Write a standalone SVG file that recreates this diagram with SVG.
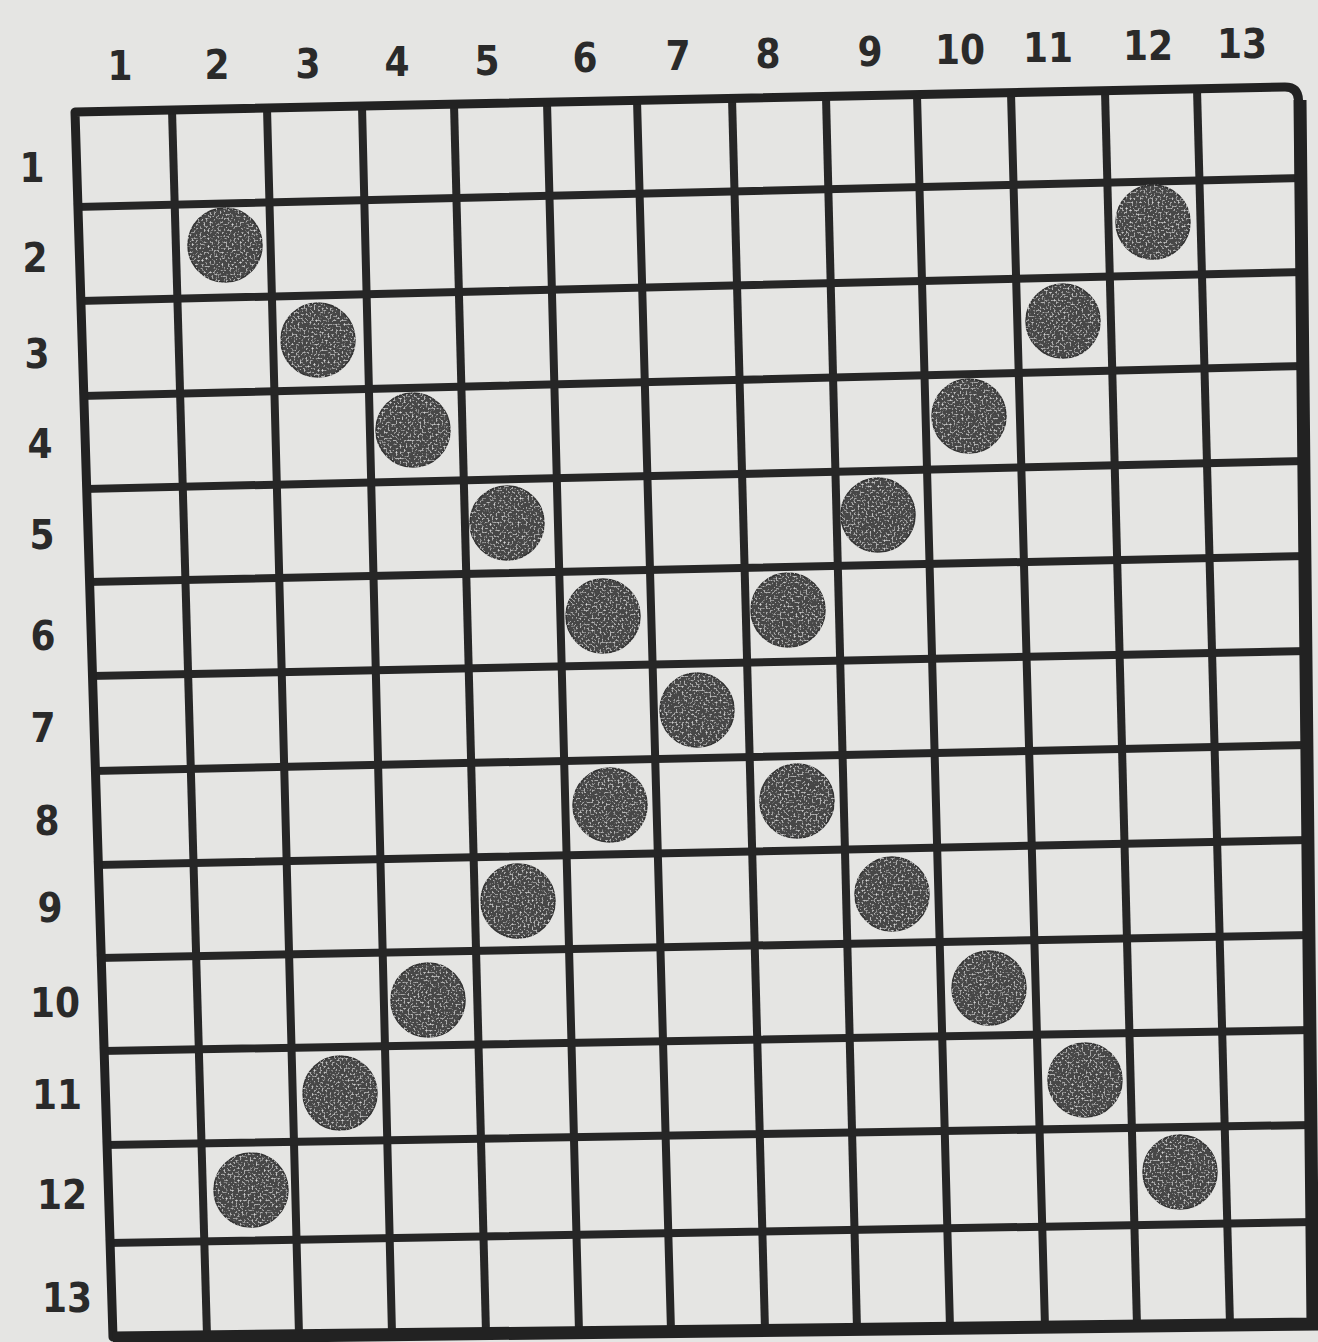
<svg xmlns="http://www.w3.org/2000/svg" width="1318" height="1342" viewBox="0 0 1318 1342">
<style>
.g{stroke:#262626;stroke-width:8;stroke-linecap:square;fill:none}
.b{stroke:#222;stroke-width:9;fill:none;stroke-linejoin:round}
.d{fill:#474747;stroke:#333;stroke-width:1.5}
.t{font-family:"DejaVu Sans Condensed","DejaVu Sans","Liberation Sans",sans-serif;font-weight:bold;font-size:40px;fill:#2a2a2a;text-anchor:middle}
</style>
<defs>
<filter id="sp" x="-10%" y="-10%" width="120%" height="120%">
<feTurbulence type="fractalNoise" baseFrequency="0.5" numOctaves="2" seed="3" result="n"/>
<feColorMatrix in="n" type="matrix" values="0 0 0 0 0.85  0 0 0 0 0.85  0 0 0 0 0.85  0 0 0 -2.5 1.2" result="m"/>
<feComposite in="m" in2="SourceGraphic" operator="in" result="w"/>
<feMerge><feMergeNode in="SourceGraphic"/><feMergeNode in="w"/></feMerge>
</filter>
</defs>
<rect width="1318" height="1342" fill="#e5e5e3"/>
<g id="grid">
<line class="g" x1="172" y1="110" x2="207" y2="1336"/>
<line class="g" x1="267" y1="108" x2="299" y2="1335"/>
<line class="g" x1="362" y1="106" x2="392" y2="1334"/>
<line class="g" x1="454" y1="104" x2="486" y2="1333"/>
<line class="g" x1="547" y1="102" x2="579" y2="1332"/>
<line class="g" x1="637" y1="100" x2="671" y2="1331"/>
<line class="g" x1="732" y1="98" x2="765" y2="1330"/>
<line class="g" x1="826" y1="97" x2="857" y2="1329"/>
<line class="g" x1="917" y1="95" x2="950" y2="1328"/>
<line class="g" x1="1011" y1="93" x2="1045" y2="1327"/>
<line class="g" x1="1105" y1="91" x2="1137" y2="1326"/>
<line class="g" x1="1197" y1="89" x2="1230" y2="1325"/>
<line class="g" x1="78" y1="207" x2="1299" y2="178"/>
<line class="g" x1="81" y1="301" x2="1300" y2="272"/>
<line class="g" x1="84" y1="396" x2="1301" y2="366"/>
<line class="g" x1="87" y1="489" x2="1302" y2="461"/>
<line class="g" x1="90" y1="582" x2="1303" y2="556"/>
<line class="g" x1="93" y1="676" x2="1304" y2="651"/>
<line class="g" x1="96" y1="771" x2="1305" y2="745"/>
<line class="g" x1="98" y1="865" x2="1306" y2="840"/>
<line class="g" x1="101" y1="958" x2="1307" y2="935"/>
<line class="g" x1="104" y1="1051" x2="1308" y2="1030"/>
<line class="g" x1="107" y1="1145" x2="1309" y2="1125"/>
<line class="g" x1="110" y1="1243" x2="1310" y2="1222"/>
<path class="b" d="M75 112 L1285 87 Q1298 87 1298.5 100 L1312 1324 L113 1337 Z"/>
<path stroke="#222" stroke-width="13" fill="none" d="M1300 100 L1313 1324 L113 1338"/>
</g>
<g id="dots" filter="url(#sp)">
<g id="dot-2-2"><circle class="d" cx="225" cy="245" r="37"/></g>
<g id="dot-3-3"><circle class="d" cx="318" cy="340" r="37"/></g>
<g id="dot-4-4"><circle class="d" cx="413" cy="430" r="37"/></g>
<g id="dot-5-5"><circle class="d" cx="507" cy="523" r="37"/></g>
<g id="dot-6-6"><circle class="d" cx="603" cy="616" r="37"/></g>
<g id="dot-7-7"><circle class="d" cx="697" cy="710" r="37"/></g>
<g id="dot-8-8"><circle class="d" cx="797" cy="801" r="37"/></g>
<g id="dot-9-9"><circle class="d" cx="892" cy="894" r="37"/></g>
<g id="dot-10-10"><circle class="d" cx="989" cy="988" r="37"/></g>
<g id="dot-11-11"><circle class="d" cx="1085" cy="1080" r="37"/></g>
<g id="dot-12-12"><circle class="d" cx="1180" cy="1172" r="37"/></g>
<g id="dot-12-2"><circle class="d" cx="1153" cy="222" r="37"/></g>
<g id="dot-11-3"><circle class="d" cx="1063" cy="321" r="37"/></g>
<g id="dot-10-4"><circle class="d" cx="969" cy="416" r="37"/></g>
<g id="dot-9-5"><circle class="d" cx="878" cy="515" r="37"/></g>
<g id="dot-8-6"><circle class="d" cx="788" cy="610" r="37"/></g>
<g id="dot-6-8"><circle class="d" cx="610" cy="805" r="37"/></g>
<g id="dot-5-9"><circle class="d" cx="518" cy="901" r="37"/></g>
<g id="dot-4-10"><circle class="d" cx="428" cy="1000" r="37"/></g>
<g id="dot-3-11"><circle class="d" cx="340" cy="1093" r="37"/></g>
<g id="dot-2-12"><circle class="d" cx="251" cy="1190" r="37"/></g>
</g>
<g id="col-labels">
<text class="t" x="120" y="80">1</text>
<text class="t" x="217" y="79">2</text>
<text class="t" x="308" y="78">3</text>
<text class="t" x="397" y="76">4</text>
<text class="t" x="487" y="75">5</text>
<text class="t" x="585" y="72">6</text>
<text class="t" x="678" y="70">7</text>
<text class="t" x="768" y="68">8</text>
<text class="t" x="870" y="66">9</text>
<text class="t" x="960" y="64">10</text>
<text class="t" x="1048" y="62">11</text>
<text class="t" x="1148" y="60">12</text>
<text class="t" x="1242" y="58">13</text>
</g>
<g id="row-labels">
<text class="t" x="32" y="182">1</text>
<text class="t" x="35" y="272">2</text>
<text class="t" x="37" y="368">3</text>
<text class="t" x="40" y="458">4</text>
<text class="t" x="42" y="549">5</text>
<text class="t" x="43" y="650">6</text>
<text class="t" x="43" y="742">7</text>
<text class="t" x="47" y="835">8</text>
<text class="t" x="50" y="922">9</text>
<text class="t" x="55" y="1017">10</text>
<text class="t" x="57" y="1109">11</text>
<text class="t" x="62" y="1209">12</text>
<text class="t" x="67" y="1312">13</text>
</g>
</svg>
